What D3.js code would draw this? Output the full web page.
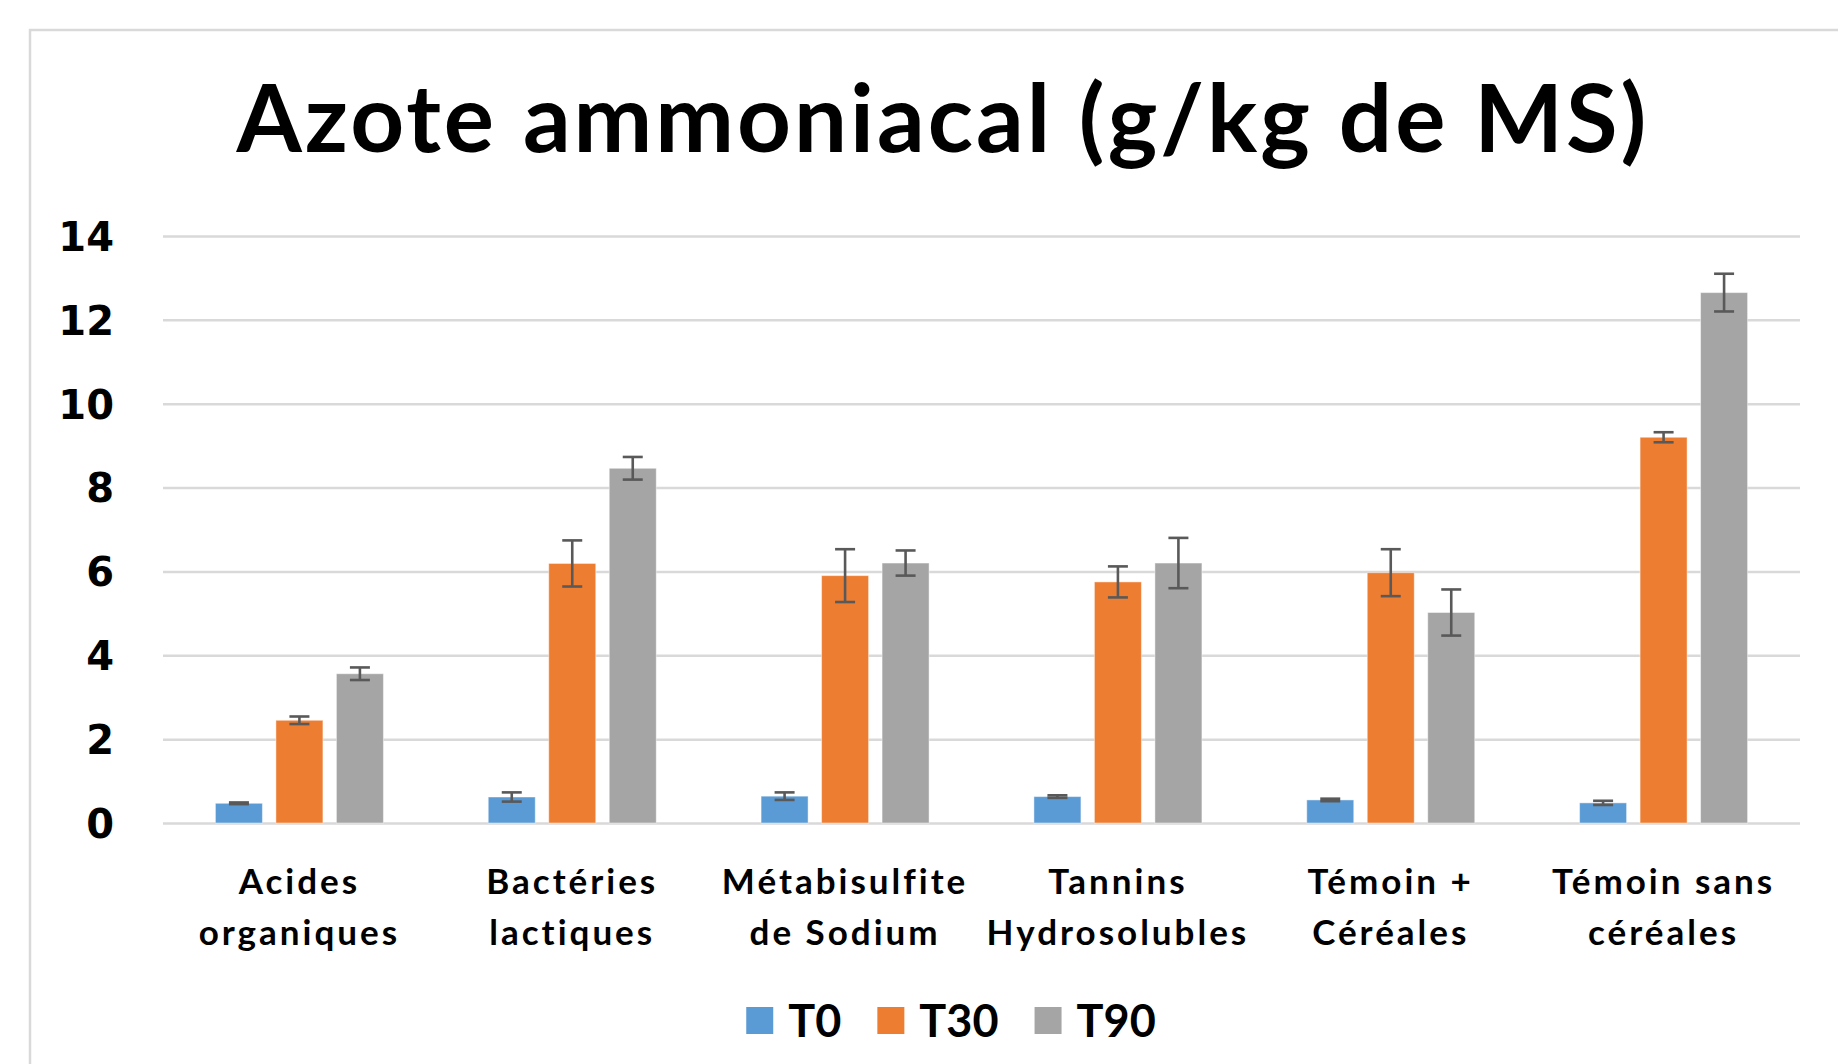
<!DOCTYPE html>
<html>
<head>
<meta charset="utf-8">
<script src="https://cdn.jsdelivr.net/npm/d3@7/dist/d3.min.js"></script>
<style>
  html, body { margin: 0; padding: 0; background: #fff; }
  svg { display: block; }
</style>
</head>
<body>
<svg id="chart" width="1838" height="1064"></svg>
<script>
// ---- data ----
const title = "Azote ammoniacal (g/kg de MS)";
const categories = [
  "Acides\norganiques",
  "Bactéries\nlactiques",
  "Métabisulfite\nde Sodium",
  "Tannins\nHydrosolubles",
  "Témoin +\nCéréales",
  "Témoin sans\ncéréales"
];
const seriesNames = ["T0", "T30", "T90"];
const t0Values  = [0.47, 0.62, 0.64, 0.63, 0.55, 0.48];
const t30Values = [2.45, 6.19, 5.90, 5.75, 5.97, 9.20];
const t90Values = [3.56, 8.46, 6.20, 6.20, 5.02, 12.65];
const t0Errors  = [0.02, 0.11, 0.09, 0.03, 0.03, 0.05];
const t30Errors = [0.09, 0.55, 0.63, 0.37, 0.56, 0.12];
const t90Errors = [0.15, 0.27, 0.30, 0.60, 0.55, 0.45];
const yTicks = [0, 2, 4, 6, 8, 10, 12, 14];
const seriesColors = ["#5b9bd5", "#ed7d31", "#a5a5a5"];

// ---- layout ----
const svg = d3.select("#chart");
const plot = { left: 163, right: 1800, top: 236, bottom: 823 };

svg.append("rect")
  .attr("x", 30).attr("y", 30)
  .attr("width", 1900).attr("height", 1100)
  .attr("fill", "#fff").attr("stroke", "#d9d9d9").attr("stroke-width", 2.5);

const x0 = d3.scaleBand().domain(categories).range([plot.left, plot.right]).padding(0);
const groupHalf = 84;
const x1 = d3.scaleBand().domain(seriesNames)
  .range([x0.bandwidth() / 2 - groupHalf, x0.bandwidth() / 2 + groupHalf])
  .paddingInner(0.223).paddingOuter(0);
const y = d3.scaleLinear().domain([0, 14]).range([plot.bottom, plot.top]);
const color = d3.scaleOrdinal().domain(seriesNames).range(seriesColors);

// gridlines + y labels
const yAxis = d3.axisLeft(y).tickValues(yTicks)
  .tickSize(-(plot.right - plot.left)).tickPadding(49).tickFormat(d3.format("d"));
const gy = svg.append("g").attr("transform", `translate(${plot.left},0)`).call(yAxis);
gy.select(".domain").remove();
gy.selectAll(".tick line").attr("stroke", "#d9d9d9").attr("stroke-width", 2.5);
gy.selectAll(".tick text")
  .attr("fill", "#000")
  .style("font-family", "'DejaVu Sans', Verdana, sans-serif")
  .style("font-weight", "bold")
  .style("font-size", "40px")
  .attr("dy", "0.36em");

// data rows
const valuesBySeries = [t0Values, t30Values, t90Values];
const errorsBySeries = [t0Errors, t30Errors, t90Errors];
const rows = [];
categories.forEach((c, i) => {
  seriesNames.forEach((s, j) => {
    rows.push({ cat: c, series: s, value: valuesBySeries[j][i], err: errorsBySeries[j][i] });
  });
});

const bars = svg.append("g");
bars.selectAll("rect").data(rows).join("rect")
  .attr("x", d => x0(d.cat) + x1(d.series))
  .attr("y", d => y(d.value))
  .attr("width", x1.bandwidth())
  .attr("height", d => y(0) - y(d.value))
  .attr("fill", d => color(d.series))
  .attr("stroke", "rgba(255,255,255,0.45)")
  .attr("stroke-width", 1);

// error bars
const capW = 20;
const eg = svg.append("g").attr("stroke", "#595959").attr("stroke-width", 2.6).attr("fill", "none");
rows.forEach(d => {
  const cx = x0(d.cat) + x1(d.series) + x1.bandwidth() / 2;
  const yt = y(d.value + d.err), yb = y(d.value - d.err);
  eg.append("line").attr("x1", cx).attr("x2", cx).attr("y1", yt).attr("y2", yb);
  eg.append("line").attr("x1", cx - capW / 2).attr("x2", cx + capW / 2).attr("y1", yt).attr("y2", yt);
  eg.append("line").attr("x1", cx - capW / 2).attr("x2", cx + capW / 2).attr("y1", yb).attr("y2", yb);
});

// x labels
const xl = svg.append("g");
categories.forEach(c => {
  const t = xl.append("text")
    .attr("text-anchor", "middle")
    .style("font-family", "Lato, 'Open Sans', sans-serif")
    .style("font-weight", "bold")
    .style("font-size", "35px")
    .style("letter-spacing", "3px")
    .attr("fill", "#000");
  c.split("\n").forEach((line, k) => {
    t.append("tspan").attr("x", x0(c) + x0.bandwidth() / 2).attr("y", 894 + k * 51).text(line);
  });
});

// title
svg.append("text")
  .attr("x", 943).attr("y", 152)
  .attr("text-anchor", "middle")
  .style("font-family", "Lato, 'Open Sans', sans-serif")
  .style("font-weight", "bold")
  .style("font-size", "94px")
  .style("letter-spacing", "3px")
  .attr("fill", "#000")
  .text(title);

// legend
const lg = svg.append("g");
const sw = 27, gapText = 15, gapItem = 36;
const items = [];
seriesNames.forEach(s => {
  const g = lg.append("g");
  g.append("rect").attr("x", 0).attr("y", 1007).attr("width", sw).attr("height", sw).attr("fill", color(s));
  const t = g.append("text").attr("x", sw + gapText).attr("y", 1037)
    .style("font-family", "Lato, 'Open Sans', sans-serif")
    .style("font-weight", "bold").style("font-size", "45px").attr("fill", "#000").text(s);
  const w = sw + gapText + t.node().getComputedTextLength();
  items.push({ g, w });
});
const total = d3.sum(items, d => d.w) + gapItem * (items.length - 1);
let start = 951 - total / 2;
items.forEach(it => {
  it.g.attr("transform", `translate(${start},0)`);
  start += it.w + gapItem;
});
</script>
</body>
</html>
